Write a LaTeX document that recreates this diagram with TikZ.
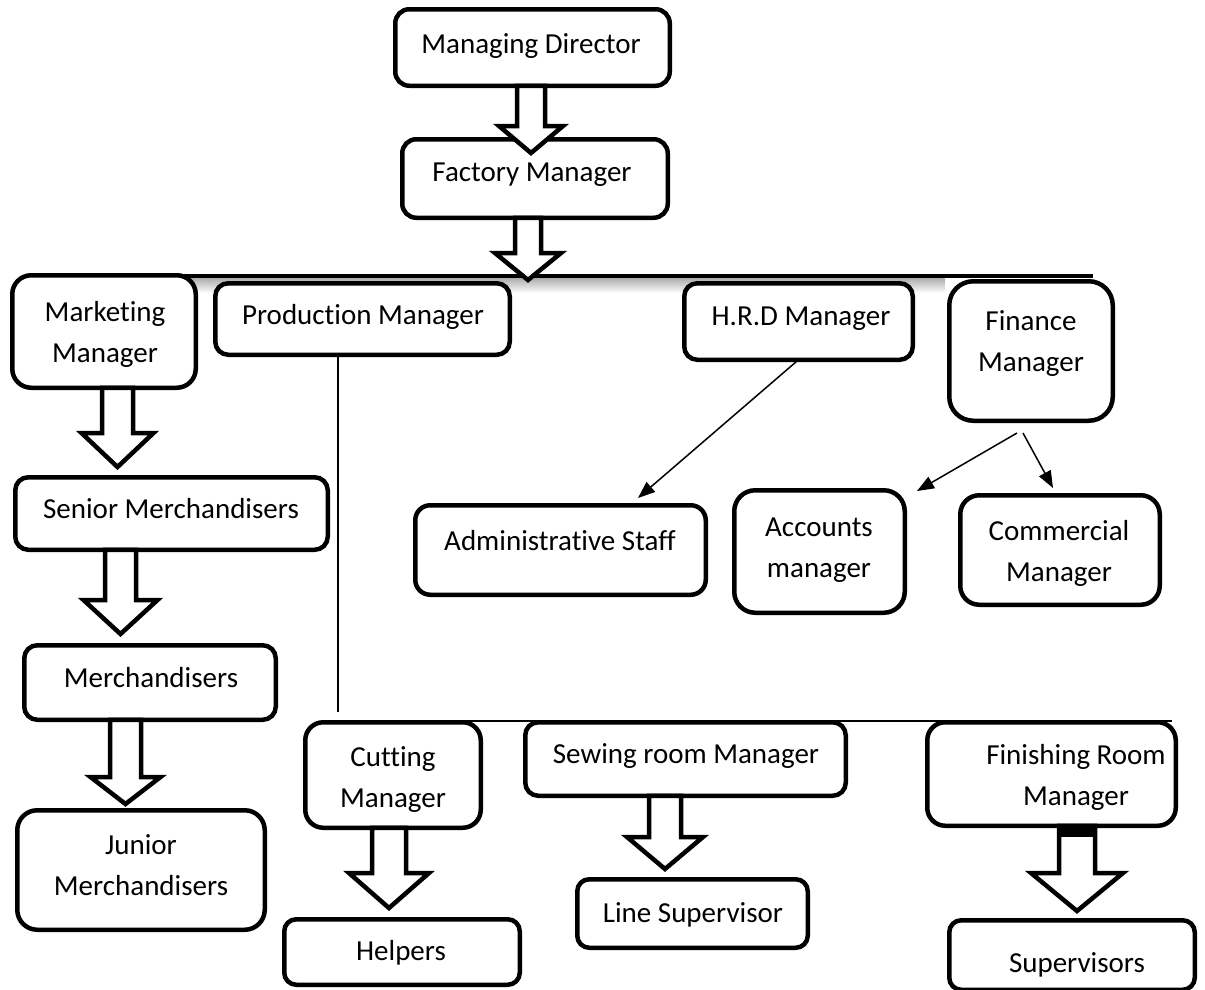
\documentclass[tikz,border=0pt]{standalone}
\usepackage{fontspec}
\setmainfont{Carlito}[Ligatures=NoCommon]
\usetikzlibrary{arrows.meta,calc}
\tikzset{
  bx/.style={draw, line width=4.5pt, fill=white, inner sep=0pt, outer sep=0pt, shape=rectangle},
  txt/.style={font=\fontsize{29pt}{41pt}\selectfont, inner sep=0pt, outer sep=0pt, align=center},
  hollow/.style={draw, line width=4.5pt, fill=white, line join=miter},
  thinline/.style={line width=1.5pt},
  thinarrow/.style={line width=1.5pt, -{Triangle[length=17pt,width=13pt]}},
  busline/.style={line width=4.5pt}
}
% box: name, x1, y1, x2, y2, corner radius
\newcommand\obox[6]{%
  \pgfmathsetmacro\bw{#4-#2-4.5}\pgfmathsetmacro\bh{#5-#3-4.5}%
  \node[bx, rounded corners=#6pt, minimum width=\bw pt, minimum height=\bh pt] (#1) at ({(#2+#4)/2},{(#3+#5)/2}) {};}
% text: name, x, baseline y of last line, text
\newcommand\otext[4]{\node[txt, anchor=base] (#1) at (#2,#3) {#4};}
% hollow arrow: from node, centre x, neck y, tip y, shaft half width, head half width
\newcommand\harr[6]{%
  \draw[hollow] let \p1=(#1.south) in
    (#2-#5,\y1) -- (#2-#5,#3) -- (#2-#6,#3) -- (#2,#4) -- (#2+#6,#3) -- (#2+#5,#3) -- (#2+#5,\y1) -- cycle;}
\begin{document}
\begin{tikzpicture}[x=1pt,y=-1pt]
\fill[white] (0,0) rectangle (1205,989);
\useasboundingbox (0,0) rectangle (1205,989);

% shadow under the top bus line
\shade[top color=gray!65, bottom color=white] (185,278) rectangle (945,293);

% bus lines
\coordinate (busL) at (60,276);
\coordinate (busR) at (1093,276);
\draw[busline] (busL) -- (busR);
\coordinate (pmEnd) at (338,712);
\coordinate (bus2L) at (338,721);
\coordinate (bus2R) at (1172,721);
\draw[thinline] (bus2L) -- (bus2R);

% boxes
\obox{md}{393}{7}{672}{88}{14}
\obox{fm}{400}{137}{670}{220}{14}
\obox{mm}{10}{273}{198}{390}{19}
\obox{pm}{213}{281}{512}{357}{13}
\obox{hrd}{682}{281}{915}{362}{13}
\obox{fin}{947}{279}{1115}{423}{24}
\obox{sm}{13}{475}{330}{552}{13}
\obox{adm}{413}{503}{708}{597}{15}
\obox{acc}{732}{488}{907}{615}{21}
\obox{com}{958}{493}{1162}{607}{19}
\obox{mer}{22}{643}{278}{722}{13}
\obox{jun}{15}{808}{267}{932}{20}
\obox{cut}{303}{720}{483}{830}{18}
\obox{sew}{523}{720}{848}{798}{13}
\obox{fnr}{925}{720}{1178}{828}{18}
\obox{hel}{282}{917}{522}{987}{12}
\obox{lin}{575}{877}{810}{950}{12}
\obox{sup}{947}{918}{1197}{992}{12}

% thin connectors
\draw[thinline] (pmEnd |- pm.south) -- (pmEnd);
\coordinate (admTip) at (638,498);
\draw[thinarrow] (hrd.south) -- (admTip);
\coordinate (finA) at (1017,433);
\coordinate (finB) at (1023,433);
\coordinate (accTip) at (917,491);
\coordinate (comTip) at (1053,488);
\draw[thinarrow] (finA) -- (accTip);
\draw[thinarrow] (finB) -- (comTip);

% hollow block arrows
\harr{md}{531}{126}{153}{14}{32}
\harr{fm}{528}{253}{280}{13}{33}
\harr{mm}{117.5}{433}{467}{15.5}{36}
\harr{sm}{120.5}{600}{634}{15.5}{37}
\harr{mer}{125.5}{777}{804}{15.5}{35}
\harr{cut}{389}{873}{908}{17}{40}
\harr{sew}{665}{837}{869}{16}{38}
\harr{fnr}{1077}{873}{911}{18}{46}
\fill (1057,826) rectangle (1097,837);

% texts
\otext{md-t}{531}{53}{Managing Director}
\otext{fm-t}{532}{181}{Factory Manager}
\otext{mm-t}{105}{362}{Marketing\\Manager}
\otext{pm-t}{363}{324}{Production Manager}
\otext{hrd-t}{801}{325}{H.R.D Manager}
\otext{fin-t}{1031}{371}{Finance\\Manager}
\otext{sm-t}{171}{518}{Senior Merchandisers}
\otext{adm-t}{560}{550}{Administrative Staff}
\otext{acc-t}{819}{577}{Accounts\\manager}
\otext{com-t}{1059}{581}{Commercial\\Manager}
\otext{mer-t}{151}{687}{Merchandisers}
\otext{jun-t}{141}{895}{Junior\\Merchandisers}
\otext{cut-t}{393}{807}{Cutting\\Manager}
\otext{sew-t}{686}{763}{Sewing room Manager}
\otext{fnr-t}{1076}{805}{Finishing Room\\Manager}
\otext{lin-t}{693}{922}{Line Supervisor}
\otext{hel-t}{401}{960}{Helpers}
\otext{sup-t}{1077}{972}{Supervisors}
\end{tikzpicture}
\end{document}
